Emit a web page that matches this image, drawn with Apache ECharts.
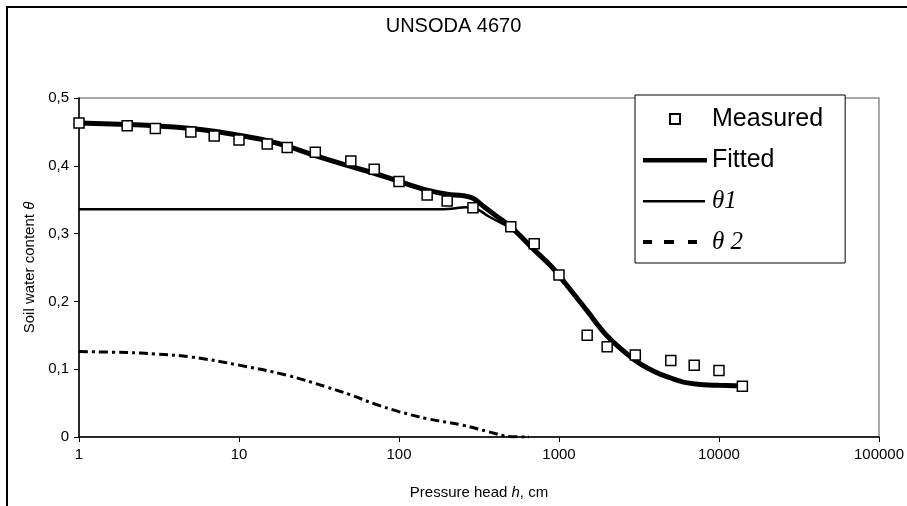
<!DOCTYPE html>
<html>
<head>
<meta charset="utf-8">
<script src="https://cdn.jsdelivr.net/npm/echarts@6/dist/echarts.min.js"></script>
<style>
html,body{margin:0;padding:0;background:#fff;}
#chart{width:907px;height:506px;}
</style>
</head>
<body>
<div id="chart"></div>
<script>
// ---- data ----
const measuredH = [1,2,3,5,7,10,15,20,30,50,70,100,150,200,290,500,700,1000,1500,2000,3000,5000,7000,10000,14000];
const measuredTheta = [0.463,0.459,0.455,0.450,0.444,0.438,0.432,0.427,0.420,0.407,0.395,0.377,0.357,0.348,0.338,0.310,0.285,0.239,0.150,0.133,0.121,0.113,0.106,0.098,0.075];

const fittedH = [1,2,3,5,7,10,15,20,30,50,70,100,150,200,250,290,330,400,500,700,900,1100,1500,2000,3000,4000,5000,6000,8000,10000,14000];
const fittedTheta = [0.463,0.461,0.459,0.455,0.451,0.445,0.437,0.429,0.415,0.399,0.389,0.377,0.364,0.358,0.356,0.352,0.342,0.327,0.310,0.276,0.251,0.226,0.186,0.149,0.113,0.096,0.087,0.081,0.077,0.0762,0.0752];

const theta1H = [1,10,100,190,220,260,290,320,360,440,500,700,900,1100,1500,2000,3000,4000,5000,6000,8000,10000,14000];
const theta1Val = [0.336,0.336,0.336,0.336,0.337,0.339,0.338,0.334,0.326,0.315,0.308,0.276,0.251,0.226,0.186,0.149,0.113,0.096,0.087,0.081,0.077,0.0762,0.0752];

const theta2H = [1,2,3,5,10,20,35,50,70,100,150,250,360,500,650];
const theta2Val = [0.126,0.1245,0.1225,0.118,0.106,0.091,0.074,0.062,0.049,0.0375,0.027,0.0175,0.008,0.0005,0];

const xTicks = [1,10,100,1000,10000,100000];
const yTicks = [0,0.1,0.2,0.3,0.4,0.5];

const zip = (a,b) => a.map((v,i)=>[v,b[i]]);
const FONT = 'Liberation Sans, Arial, sans-serif';

const chart = echarts.init(document.getElementById('chart'), null, {renderer:'canvas'});
chart.setOption({
  backgroundColor:'#fff',
  animation:false,
  textStyle:{fontFamily:FONT,color:'#000'},
  title:{
    text:'UNSODA 4670', left:'center', top:11,
    textStyle:{fontFamily:FONT,fontSize:20,fontWeight:'normal',color:'#000'}
  },
  graphic:[{
    type:'polyline', silent:true,
    shape:{points:[[7,506],[7,7],[907,7]]},
    style:{stroke:'#000',lineWidth:2,fill:null}
  }],
  grid:{left:79,top:98,right:25,bottom:69,show:true,borderColor:'#8c8c8c',borderWidth:1.5,backgroundColor:'#fff'},
  legend:{
    orient:'vertical', left:635, top:95,
    padding:[10,22,7,7],
    backgroundColor:'#fff', borderColor:'#000', borderWidth:1,
    itemWidth:64, itemHeight:10, itemGap:13,
    textStyle:{fontFamily:FONT,fontSize:25,color:'#000',lineHeight:28,
      rich:{th:{fontFamily:'Liberation Serif, Times New Roman, serif',fontStyle:'italic',fontSize:25,lineHeight:28,color:'#000'}}},
    formatter:function(n){ return (n==='θ1'||n==='θ 2') ? '{th|'+n+'}' : n; },
    data:[
      {name:'Measured', icon:'path://M0,0M64,10M27,0h10v10h-10z'},
      {name:'Fitted', icon:'path://M0,0M64,10M0,3h64v4.5h-64z', itemStyle:{borderWidth:0}},
      {name:'θ1', icon:'path://M0,0M64,10M0,4h62v2.5h-62z', itemStyle:{borderWidth:0}},
      {name:'θ 2', icon:'path://M0,0M64,10M0,3h9v4h-9zM21,3h10v4h-10zM45,3h9v4h-9z', itemStyle:{borderWidth:0}}
    ]
  },
  xAxis:{
    type:'log', logBase:10, min:xTicks[0], max:xTicks[xTicks.length-1],
    axisLine:{show:true,lineStyle:{color:'#000',width:1.5}},
    axisTick:{show:true,inside:false,length:5,lineStyle:{color:'#000',width:1}},
    axisLabel:{fontFamily:FONT,fontSize:15,color:'#000',margin:10,
      formatter:function(v){ return String(Math.round(v)); }},
    splitLine:{show:false},
    minorTick:{show:false},
    name:'Pressure head {i|h}, cm', nameLocation:'middle', nameGap:48,
    nameTextStyle:{fontFamily:FONT,fontSize:15,color:'#000',rich:{i:{fontFamily:FONT,fontStyle:'italic',fontSize:15,color:'#000'}}}
  },
  yAxis:{
    type:'value', min:yTicks[0], max:yTicks[yTicks.length-1], interval:0.1,
    axisLine:{show:true,lineStyle:{color:'#000',width:1.5}},
    axisTick:{show:true,inside:false,length:5,lineStyle:{color:'#000',width:1}},
    axisLabel:{fontFamily:FONT,fontSize:15,color:'#000',margin:10,
      formatter:function(v){ return v===0 ? '0' : v.toFixed(1).replace('.',','); }},
    splitLine:{show:false},
    name:'Soil water content {i|θ}', nameLocation:'middle', nameGap:42, nameRotate:90,
    nameTextStyle:{fontFamily:FONT,fontSize:15,color:'#000',rich:{i:{fontFamily:FONT,fontStyle:'italic',fontSize:15,color:'#000'}}}
  },
  series:[
    {name:'θ 2', type:'line', data:zip(theta2H,theta2Val), showSymbol:false, smooth:0.4,
      itemStyle:{color:'#000'}, lineStyle:{color:'#000',width:3,type:[9,4,3,4]}, z:2},
    {name:'θ1', type:'line', data:zip(theta1H,theta1Val), showSymbol:false, smooth:0.4,
      itemStyle:{color:'#000'}, lineStyle:{color:'#000',width:2.5}, z:3},
    {name:'Fitted', type:'line', data:zip(fittedH,fittedTheta), showSymbol:false, smooth:0.4,
      itemStyle:{color:'#000'}, lineStyle:{color:'#000',width:5}, z:4},
    {name:'Measured', type:'scatter', data:zip(measuredH,measuredTheta), symbol:'rect', symbolSize:10,
      itemStyle:{color:'#fff',borderColor:'#000',borderWidth:1.5,opacity:1}, z:5}
  ]
});
</script>
</body>
</html>
